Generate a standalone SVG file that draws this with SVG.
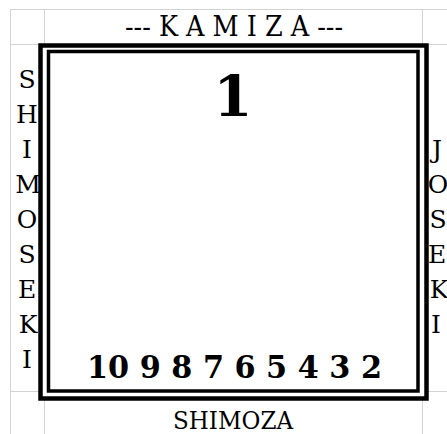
<svg xmlns="http://www.w3.org/2000/svg" width="447" height="434" viewBox="0 0 447 434">
<style>
.grid{stroke:#d3d3d3;stroke-width:1;fill:none}
.t{font-family:"DejaVu Serif","Liberation Serif",serif;fill:#000}
.side{font-size:25px;text-anchor:middle}
.num{font-weight:bold}
</style>
<rect width="447" height="434" fill="#fff"/>
<g id="grid" class="grid">
<line x1="10" y1="9.5" x2="447" y2="9.5"/>
<line x1="10" y1="44.5" x2="447" y2="44.5"/>
<line x1="10" y1="391.5" x2="447" y2="391.5"/>
<line x1="10.5" y1="9" x2="10.5" y2="434"/>
<line x1="44.5" y1="9" x2="44.5" y2="434"/>
<line x1="422.5" y1="9" x2="422.5" y2="434"/>
</g>
<g id="board">
<rect x="40.5" y="45.5" width="386" height="353" fill="#fff" stroke="#000" stroke-width="4.5"/>
<rect x="48.5" y="51.5" width="369.5" height="339.5" fill="none" stroke="#000" stroke-width="3.5"/>
</g>
<g id="kamiza"><text class="t" x="125" y="36" font-size="27" textLength="218" lengthAdjust="spacingAndGlyphs">--- K A M I Z A ---</text></g>
<g id="shimoza"><text class="t" x="173" y="429" font-size="24" textLength="120" lengthAdjust="spacingAndGlyphs">SHIMOZA</text></g>
<g id="shimoseki" class="t side">
<text x="27" y="88">S</text>
<text x="27" y="123">H</text>
<text x="27" y="158">I</text>
<text x="28" y="193">M</text>
<text x="27" y="228">O</text>
<text x="27" y="263">S</text>
<text x="27" y="298">E</text>
<text x="28" y="333">K</text>
<text x="27" y="368">I</text>
</g>
<g id="joseki" class="t side">
<text x="437" y="158">J</text>
<text x="438" y="193">O</text>
<text x="438" y="228">S</text>
<text x="437" y="263">E</text>
<text x="439" y="298">K</text>
<text x="436" y="333">I</text>
</g>
<g id="one"><text class="t num" x="233" y="116" font-size="56" text-anchor="middle">1</text></g>
<g id="row"><text class="t num" x="87" y="378" font-size="32" textLength="295" lengthAdjust="spacingAndGlyphs">10 9 8 7 6 5 4 3 2</text></g>
</svg>
